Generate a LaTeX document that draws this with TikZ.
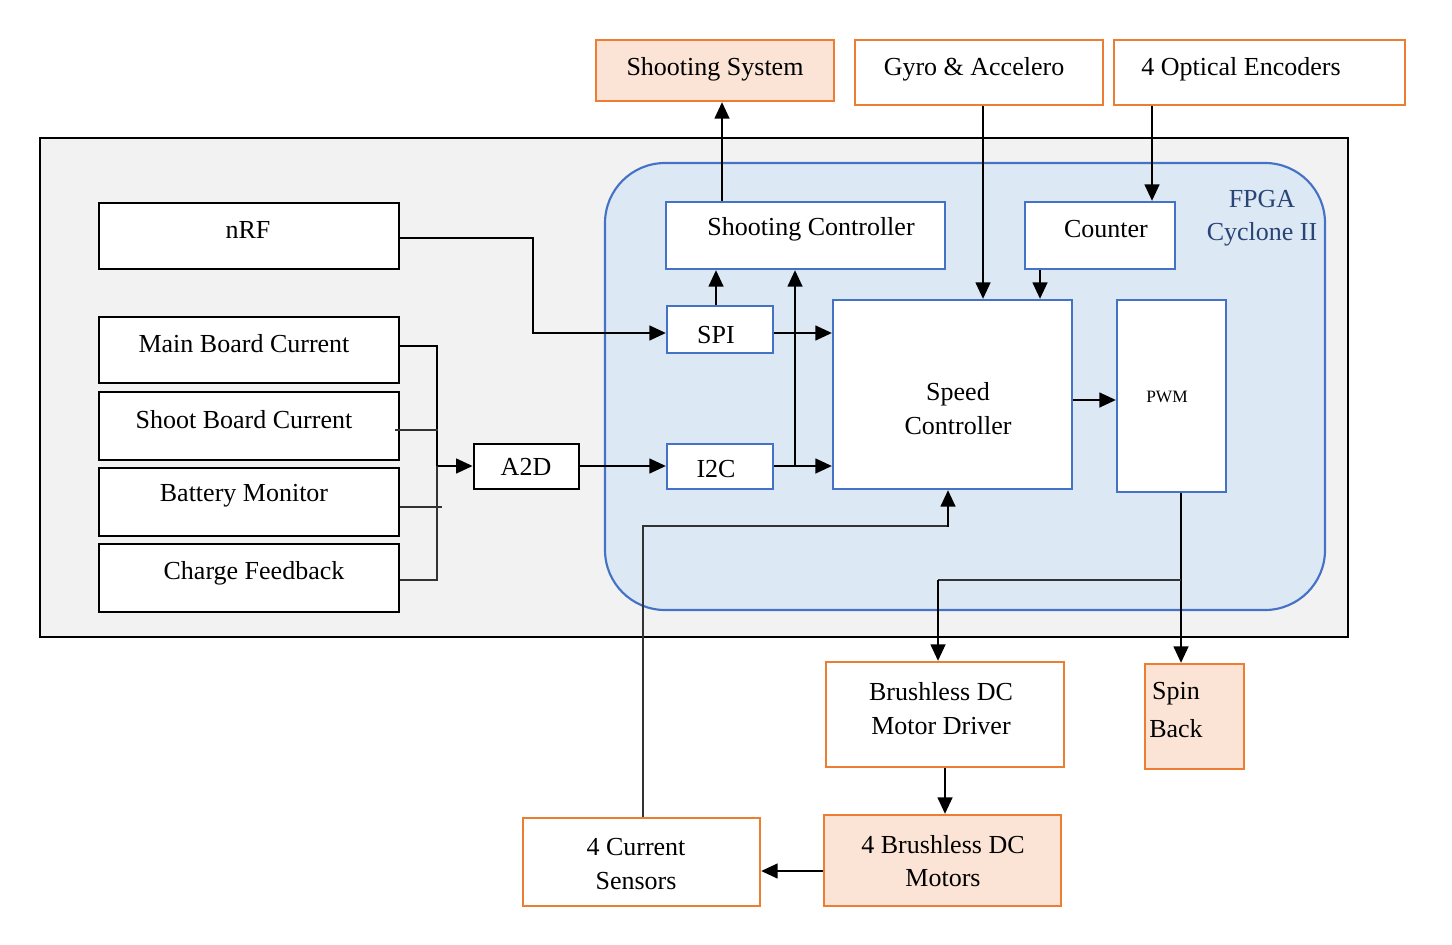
\documentclass[tikz,border=0pt]{standalone}
\usepackage{fontspec}
\setmainfont{Liberation Serif}
\usetikzlibrary{arrows.meta,fit,backgrounds}
\definecolor{org}{HTML}{ED7D31}
\definecolor{orgfill}{HTML}{FBE4D5}
\definecolor{blu}{HTML}{4472C4}
\definecolor{blufill}{HTML}{DDE8F5}
\definecolor{grayfill}{HTML}{F2F2F2}
\tikzset{
 x=0.75pt,y=-0.75pt,
 every node/.style={font=\fontsize{19.5}{23}\selectfont},
 bx/.style={draw=black,line width=2pt,fill=white,inner sep=0pt},
 ib/.style={draw=blu,line width=1.6pt,fill=white,inner sep=0pt},
 ob/.style={draw=org,line width=1.6pt,fill=white,inner sep=0pt},
 of/.style={draw=org,line width=1.6pt,fill=orgfill,inner sep=0pt},
 lb/.style={align=center,inner sep=0pt},
 ar/.style={line width=2pt,-{Triangle[length=12.5pt,width=11pt]}},
 thin1/.style={line width=0.8pt, draw=black!80},
}
\begin{document}
\begin{tikzpicture}
\useasboundingbox[fill=white] (0,0) rectangle (1452,945);
\draw[line width=2pt,fill=grayfill] (40,138) rectangle (1348,637);
\draw[blu,line width=1.6pt,fill=blufill,rounded corners=45pt] (605,163) rectangle (1325,610);
\node[lb,text=blu!60!black] at (1262,218) {FPGA\\[2pt]Cyclone II};

\node[of,fit={(596,40)(834,101)}] (ss) {};
\node[ob,fit={(855,40)(1103,105)}] (gy) {};
\node[ob,fit={(1114,40)(1405,105)}] (oe) {};
\node[bx,fit={(99,203)(399,269)}] (nrf) {};
\node[bx,fit={(99,317)(399,383)}] (mb) {};
\node[bx,fit={(99,392)(399,460)}] (sb) {};
\node[bx,fit={(99,468)(399,536)}] (bm) {};
\node[bx,fit={(99,544)(399,612)}] (cf) {};
\node[bx,fit={(474,444)(579,489)}] (a2d) {};
\node[ib,fit={(667,306)(773,353)}] (spi) {};
\node[ib,fit={(667,444)(773,489)}] (i2c) {};
\node[ib,fit={(666,202)(945,269)}] (sc) {};
\node[ib,fit={(1025,202)(1175,269)}] (cnt) {};
\node[ib,fit={(833,300)(1072,489)}] (spd) {};
\node[ib,fit={(1117,300)(1226,492)}] (pwm) {};
\node[ob,fit={(826,662)(1064,767)}] (drv) {};
\node[of,fit={(1145,664)(1244,769)}] (spin) {};
\node[of,fit={(824,815)(1061,906)}] (mot) {};
\node[ob,fit={(523,818)(760,906)}] (cs) {};

\node[lb] at (715,69) {Shooting System};
\node[lb] at (974,69) {Gyro \& Accelero};
\node[lb] at (1241,69) {4 Optical Encoders};
\node[lb] at (248,230) {nRF};
\node[lb] at (244,344) {Main Board Current};
\node[lb] at (244,420) {Shoot Board Current};
\node[lb] at (244,496) {Battery Monitor};
\node[lb] at (254,573) {Charge Feedback};
\node[lb] at (526,467) {A2D};
\node[lb] at (716,335) {SPI};
\node[lb] at (716,469) {I2C};
\node[lb] at (811,229) {Shooting Controller};
\node[lb] at (1106,229) {Counter};
\node[lb] at (958,394) {Speed};
\node[lb] at (958,426) {Controller};
\node[lb,font=\fontsize{13}{15}\selectfont] at (1167,397) {PWM};
\node[lb] at (941,692) {Brushless DC};
\node[lb] at (941,726) {Motor Driver};
\node[lb] at (1176,694) {Spin};
\node[lb] at (1176,729) {Back};
\node[lb] at (943,845) {4 Brushless DC};
\node[lb] at (943,878) {Motors};
\node[lb] at (636,847) {4 Current};
\node[lb] at (636,881) {Sensors};

% left side
\draw[ar] (nrf.east |- 0,238) -- (533,238) -- (533,333) -- (spi.west |- 0,333);
\draw[ar] (mb.east |- 0,346) -- (437,346) -- (437,466) -- (a2d.west |- 0,466);
\draw[thin1] (395,430) -- (438,430);
\draw[thin1] (sb.east |- 0,507) -- (442,507);
\draw[thin1] (cf.east |- 0,580) -- (437,580) -- (437,466);
\draw[ar] (a2d.east |- 0,466) -- (i2c.west |- 0,466);

% FPGA internals
\draw[ar] (i2c.east |- 0,466) -- (spd.west |- 0,466);
\draw[ar] (795,466) -- (sc.south -| 795,0);
\draw[ar] (spi.east |- 0,333) -- (spd.west |- 0,333);
\draw[ar] (spi.north -| 716,0) -- (sc.south -| 716,0);
\draw[ar] (sc.north -| 722,0) -- (ss.south -| 722,0);
\draw[ar] (gy.south -| 983,0) -- (spd.north -| 983,0);
\draw[ar] (oe.south -| 1152,0) -- (cnt.north -| 1152,0);
\draw[ar] (cnt.south -| 1040,0) -- (spd.north -| 1040,0);
\draw[ar] (spd.east |- 0,400) -- (pwm.west |- 0,400);

% outputs
\draw[ar] (pwm.south -| 1181,0) -- (spin.north -| 1181,0);
\draw[thin1] (1181,580) -- (938,580);
\draw[ar] (938,580) -- (drv.north -| 938,0);
\draw[ar] (drv.south -| 945,0) -- (mot.north -| 945,0);
\draw[ar] (mot.west |- 0,871) -- (cs.east |- 0,871);
\draw[thin1] (cs.north -| 643,0) -- (643,526) -- (948,526);
\draw[ar] (948,527) -- (spd.south -| 948,0);
\end{tikzpicture}
\end{document}
